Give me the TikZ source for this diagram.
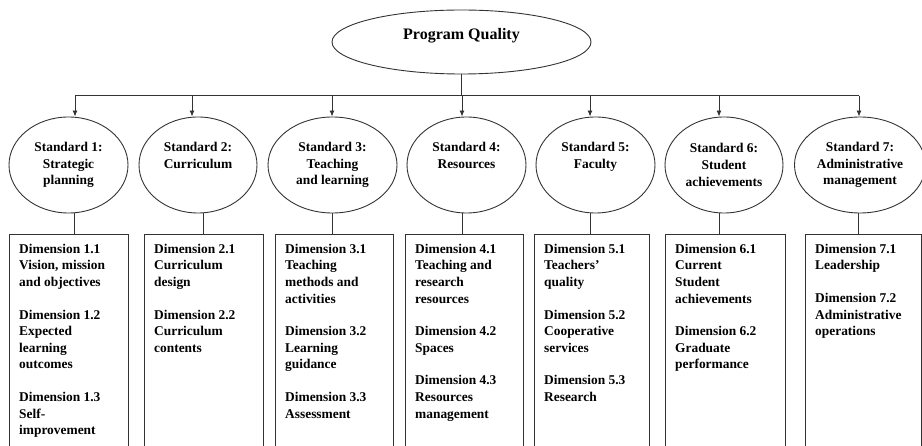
\documentclass[tikz,border=0pt]{standalone}
\usepackage{fontspec}
\setmainfont{Liberation Serif}
\usetikzlibrary{shapes.geometric,arrows.meta}

\tikzset{
  link/.style={line width=0.9pt, draw=black!80},
  arr/.style={link, -{Latex[length=6pt,width=5pt]}},
  stdell/.style={link, ellipse, inner sep=0pt, minimum width=119pt,
    minimum height=96pt, align=center,
    font=\fontsize{13.4}{16.8}\selectfont\bfseries},
  dimbox/.style={link, rectangle, anchor=north west, inner sep=0pt,
    minimum height=230pt},
  dimtext/.style={anchor=north west, align=left, inner sep=0pt,
    font=\fontsize{13.4}{16.6}\selectfont\bfseries},
}
\newcommand{\padline}{\\\rule[-3pt]{0pt}{3pt}}

\begin{document}
\begin{tikzpicture}[x=1pt, y=-1pt]
\useasboundingbox (0,0) rectangle (922,446);

% top of the tree
\node[link, ellipse, inner sep=0pt, minimum width=259pt, minimum height=64pt,
  text depth=16pt, font=\fontsize{16}{19}\selectfont\bfseries]
  (pq) at (461.5,42) {Program Quality};

% bus line
\foreach \n/\x in {1/75, 2/192, 3/332, 4/462, 5/590, 6/719, 7/859}
  \coordinate (a\n) at (\x,95.7);
\draw[link] (a1) -- (a7);
\draw[link] (pq.south) -- (pq.south |- a4);

% standards
\node[stdell] (s1) at (68.5,165) {Standard 1:\\Strategic\\planning};
\node[stdell, minimum width=118pt] (s2) at (198,165) {Standard 2:\\Curriculum\padline};
\node[stdell, minimum width=129pt] (s3) at (332.5,165) {Standard 3:\\Teaching\\and learning};
\node[stdell] (s4) at (466.5,165) {Standard 4:\\Resources\padline};
\node[stdell] (s5) at (595.5,165) {Standard 5:\\Faculty\padline};
\node[stdell, minimum width=118pt] (s6) at (724,165) {Standard 6:\\Student\\achievements};
\node[stdell, minimum width=131pt] (s7) at (860,165) {Standard 7:\\Administrative\\management};

\foreach \n in {1,...,7}
  \draw[arr] (a\n) -- (a\n |- s\n.north);

% dimension boxes
\node[dimbox, minimum width=119pt] (d1) at (9,234) {};
\node[dimbox, minimum width=119pt] (d2) at (144,234) {};
\node[dimbox, minimum width=118pt] (d3) at (275,234) {};
\node[dimbox, minimum width=118pt] (d4) at (405,234) {};
\node[dimbox, minimum width=115pt] (d5) at (534,234) {};
\node[dimbox, minimum width=120pt] (d6) at (665,234) {};
\node[dimbox, minimum width=116pt] (d7) at (805,234) {};

\foreach \n/\x in {1/74, 2/203, 3/332, 4/462, 5/590, 6/719, 7/858} {
  \coordinate (l\n) at (\x,0);
  \draw[link] (l\n |- s\n.south) -- (l\n |- d\n.north);
}

\node[dimtext] (t1) at ([shift={(10,9.8)}]d1.north west)
  {Dimension 1.1\\Vision, mission\\and objectives\\[16pt]
   Dimension 1.2\\Expected\\learning\\outcomes\\[16pt]
   Dimension 1.3\\Self-\\improvement};
\node[dimtext] (t2) at ([shift={(10,9.8)}]d2.north west)
  {Dimension 2.1\\Curriculum\\design\\[16pt]
   Dimension 2.2\\Curriculum\\contents};
\node[dimtext] (t3) at ([shift={(10,9.8)}]d3.north west)
  {Dimension 3.1\\Teaching\\methods and\\activities\\[16pt]
   Dimension 3.2\\Learning\\guidance\\[16pt]
   Dimension 3.3\\Assessment};
\node[dimtext] (t4) at ([shift={(10,9.8)}]d4.north west)
  {Dimension 4.1\\Teaching and\\research\\resources\\[16pt]
   Dimension 4.2\\Spaces\\[16pt]
   Dimension 4.3\\Resources\\management};
\node[dimtext] (t5) at ([shift={(10,9.8)}]d5.north west)
  {Dimension 5.1\\Teachers'\\quality\\[16pt]
   Dimension 5.2\\Cooperative\\services\\[16pt]
   Dimension 5.3\\Research};
\node[dimtext] (t6) at ([shift={(10,9.8)}]d6.north west)
  {Dimension 6.1\\Current\\Student\\achievements\\[16pt]
   Dimension 6.2\\Graduate\\performance};
\node[dimtext] (t7) at ([shift={(10,9.8)}]d7.north west)
  {Dimension 7.1\\Leadership\\[16pt]
   Dimension 7.2\\Administrative\\operations};
\end{tikzpicture}
\end{document}
